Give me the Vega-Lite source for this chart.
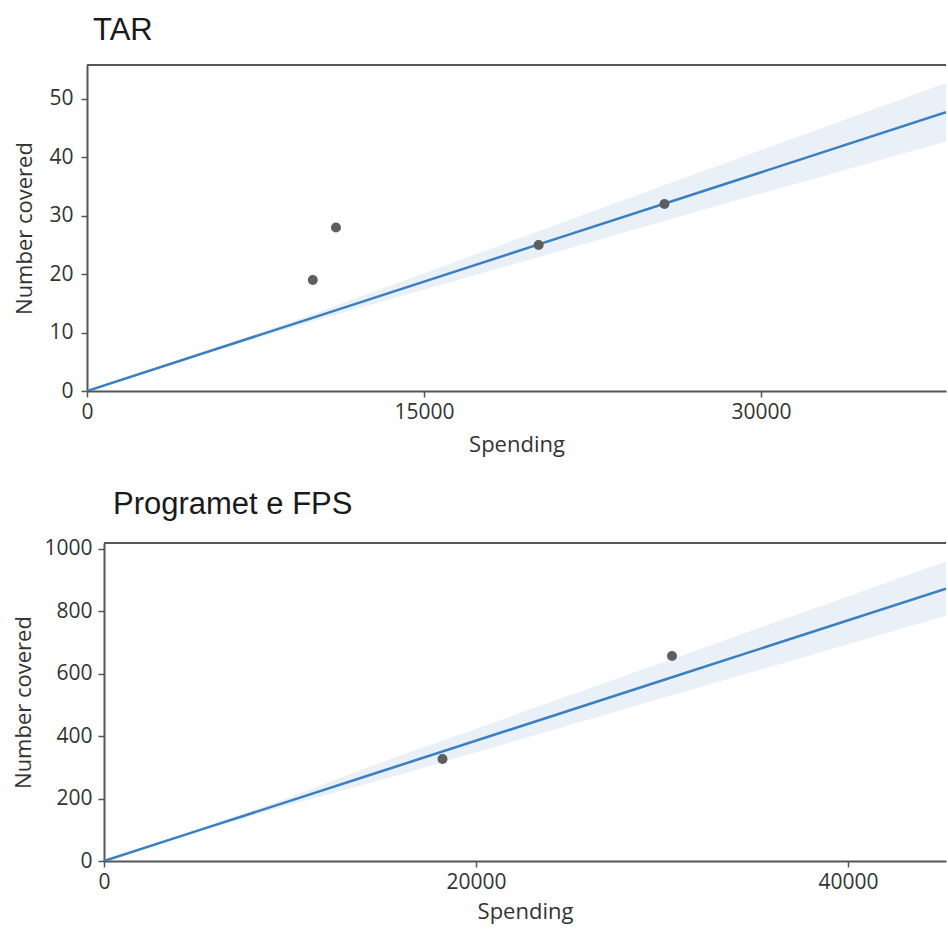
{
  "$schema": "https://vega.github.io/schema/vega-lite/v6.json",
  "background": "white",
  "padding": {"top": 15, "left": 12, "right": 0, "bottom": 6},
  "spacing": 33,
  "datasets": {
    "tar_points": [
      {"spending": 10050, "covered": 19},
      {"spending": 11080, "covered": 28},
      {"spending": 20100, "covered": 25},
      {"spending": 25700, "covered": 32}
    ],
    "tar_fit": [
      {"spending": 0, "fit": 0, "lo": 0, "hi": 0},
      {"spending": 5000, "fit": 6.24, "lo": 6.1, "hi": 6.4},
      {"spending": 10000, "fit": 12.48, "lo": 11.9, "hi": 13.1},
      {"spending": 20000, "fit": 24.96, "lo": 22.8, "hi": 27.2},
      {"spending": 27300, "fit": 34.07, "lo": 30.9, "hi": 37.5},
      {"spending": 38230, "fit": 47.71, "lo": 42.7, "hi": 52.7}
    ],
    "fps_points": [
      {"spending": 18200, "covered": 327},
      {"spending": 30540, "covered": 657}
    ],
    "fps_fit": [
      {"spending": 0, "fit": 0, "lo": 0, "hi": 0},
      {"spending": 5000, "fit": 96.4, "lo": 93, "hi": 100},
      {"spending": 10000, "fit": 192.8, "lo": 180, "hi": 205},
      {"spending": 15000, "fit": 289.2, "lo": 261, "hi": 318},
      {"spending": 30540, "fit": 588.8, "lo": 531, "hi": 647},
      {"spending": 45270, "fit": 872.9, "lo": 786, "hi": 960}
    ]
  },
  "vconcat": [
    {
      "width": 859,
      "height": 326,
      "title": {"text": "TAR", "anchor": "start", "frame": "group", "dx": 6, "offset": 17},
      "layer": [
        {
          "data": {"name": "tar_fit"},
          "mark": {"type": "area", "color": "#4a86c5", "opacity": 0.12},
          "encoding": {
            "x": {"field": "spending", "type": "quantitative", "scale": {"domain": [0, 38230], "nice": false}, "axis": {"values": [0, 15000, 30000], "format": "d", "title": "Spending"}},
            "y": {"field": "lo", "type": "quantitative", "scale": {"domain": [0, 55.8], "nice": false}, "axis": {"values": [0, 10, 20, 30, 40, 50], "format": "d", "title": "Number covered", "titlePadding": 12}},
            "y2": {"field": "hi"}
          }
        },
        {
          "data": {"name": "tar_fit"},
          "mark": {"type": "line", "color": "#3a7fc1", "strokeWidth": 2.5, "clip": true},
          "encoding": {
            "x": {"field": "spending", "type": "quantitative"},
            "y": {"field": "fit", "type": "quantitative"}
          }
        },
        {
          "data": {"name": "tar_points"},
          "mark": {"type": "circle", "size": 100, "color": "#5e5e5e", "opacity": 1},
          "encoding": {
            "x": {"field": "spending", "type": "quantitative"},
            "y": {"field": "covered", "type": "quantitative"}
          }
        },
        {
          "data": {"values": [{}]},
          "mark": {"type": "rule", "color": "#555555", "strokeWidth": 2},
          "encoding": {"y": {"datum": 55.8}}
        }
      ]
    },
    {
      "width": 859,
      "height": 318,
      "title": {"text": "Programet e FPS", "anchor": "start", "frame": "group", "dx": 26, "offset": 17},
      "layer": [
        {
          "data": {"name": "fps_fit"},
          "mark": {"type": "area", "color": "#4a86c5", "opacity": 0.12},
          "encoding": {
            "x": {"field": "spending", "type": "quantitative", "scale": {"domain": [0, 45270], "nice": false, "range": [17, 859]}, "axis": {"values": [0, 20000, 40000], "format": "d", "title": "Spending", "titlePadding": 9}},
            "y": {"field": "lo", "type": "quantitative", "scale": {"domain": [0, 1019], "nice": false}, "axis": {"values": [0, 200, 400, 600, 800, 1000], "format": "d", "title": "Number covered", "titlePadding": 8, "labelPadding": 6, "offset": -17}},
            "y2": {"field": "hi"}
          }
        },
        {
          "data": {"name": "fps_fit"},
          "mark": {"type": "line", "color": "#3a7fc1", "strokeWidth": 2.5, "clip": true},
          "encoding": {
            "x": {"field": "spending", "type": "quantitative"},
            "y": {"field": "fit", "type": "quantitative"}
          }
        },
        {
          "data": {"name": "fps_points"},
          "mark": {"type": "circle", "size": 100, "color": "#5e5e5e", "opacity": 1},
          "encoding": {
            "x": {"field": "spending", "type": "quantitative"},
            "y": {"field": "covered", "type": "quantitative"}
          }
        },
        {
          "data": {"values": [{}]},
          "mark": {"type": "rule", "color": "#555555", "strokeWidth": 2},
          "encoding": {"x": {"datum": 0}, "x2": {"datum": 45270}, "y": {"datum": 1019}}
        }
      ]
    }
  ],
  "config": {
    "view": {"stroke": null},
    "title": {"font": "Liberation Sans", "fontSize": 31, "fontWeight": "normal", "color": "#1a1a1a"},
    "axis": {
      "grid": false,
      "domainColor": "#555555",
      "domainWidth": 2,
      "tickColor": "#555555",
      "tickSize": 6,
      "tickWidth": 1.5,
      "labelFont": "Open Sans",
      "labelFontSize": 21,
      "labelColor": "#333333",
      "labelPadding": 8,
      "titleFont": "Open Sans",
      "titleFontSize": 22,
      "titleFontWeight": "normal",
      "titleColor": "#333333",
      "titlePadding": 12,
      "labelFlush": false,
      "labelOverlap": false
    },
    "axisX": {"labelPadding": 4, "titlePadding": 12}
  }
}
